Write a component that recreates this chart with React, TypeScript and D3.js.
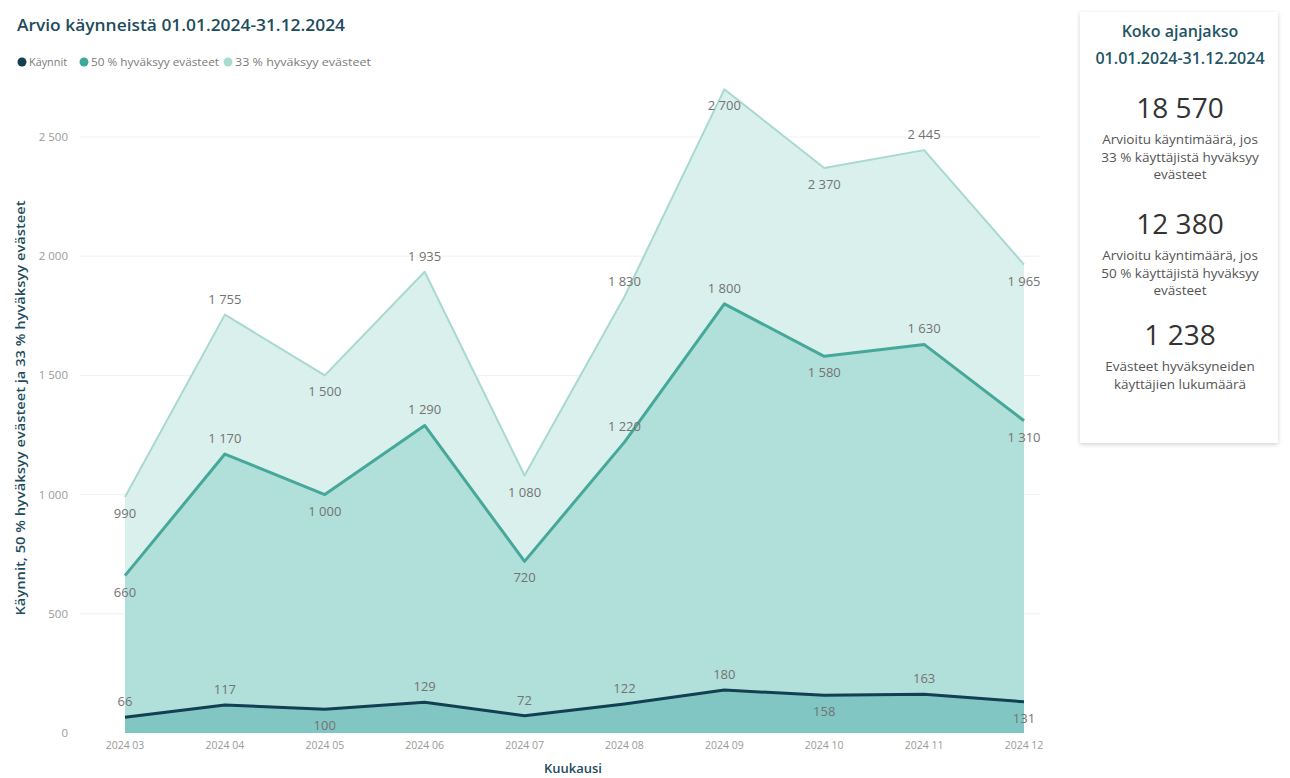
import React from "react";
import * as d3 from "d3";

const months = ["2024 03", "2024 04", "2024 05", "2024 06", "2024 07", "2024 08", "2024 09", "2024 10", "2024 11", "2024 12"];
const visits = [66, 117, 100, 129, 72, 122, 180, 158, 163, 131];
const accept50 = [660, 1170, 1000, 1290, 720, 1220, 1800, 1580, 1630, 1310];
const accept33 = [990, 1755, 1500, 1935, 1080, 1830, 2700, 2370, 2445, 1965];
const yTicks = [0, 500, 1000, 1500, 2000, 2500];
const seriesNames = ["Käynnit", "50 % hyväksyy evästeet", "33 % hyväksyy evästeet"];

// label side: 1 = above, -1 = below
const pos33 = [-1, 1, -1, 1, -1, 1, -1, -1, 1, -1];
const pos50 = [-1, 1, -1, 1, -1, 1, 1, -1, 1, -1];
const posVisits = [1, 1, -1, 1, 1, 1, 1, -1, 1, -1];

const cardTitle = ["Koko ajanjakso", "01.01.2024-31.12.2024"];
const kpis = [
  { value: "18 570", lines: ["Arvioitu käyntimäärä, jos", "33 % käyttäjistä hyväksyy", "evästeet"] },
  { value: "12 380", lines: ["Arvioitu käyntimäärä, jos", "50 % käyttäjistä hyväksyy", "evästeet"] },
  { value: "1 238", lines: ["Evästeet hyväksyneiden", "käyttäjien lukumäärä"] },
];

const FONT = "'Segoe UI', 'Open Sans', 'Noto Sans', sans-serif";
const fmt = (v: number) => d3.format(",")(v).replace(/,/g, " ");

export default function App() {
  const W = 1290, H = 778;
  const x = d3.scalePoint<string>().domain(months).range([125, 1024]);
  const y = d3.scaleLinear().domain([0, 2500]).range([733, 137]);

  const area = (vals: number[]) =>
    d3.area<number>().x((_, i) => x(months[i])!).y0(y(0)).y1((d) => y(d))(vals) || "";
  const line = (vals: number[]) =>
    d3.line<number>().x((_, i) => x(months[i])!).y((d) => y(d))(vals) || "";

  const series = [
    { vals: accept33, fill: "#daf0ec", stroke: "#a8d9d1", sw: 2, pos: pos33 },
    { vals: accept50, fill: "#b1dfda", stroke: "#45a89b", sw: 3, pos: pos50 },
    { vals: visits, fill: "#82c6c3", stroke: "#123f52", sw: 3, pos: posVisits },
  ];
  const legendColors = ["#123f52", "#3fa89a", "#a8dcd3"];
  const legendX = [22, 84, 228];
  const legendLen = [38, 128, 136];

  const cardCx = 1180;
  const kpiY = [118, 234, 345];

  return (
    <svg width={W} height={H} style={{ position: "absolute", left: 0, top: 0, background: "#fff" }} fontFamily={FONT}>
      <defs>
        <filter id="shadow" x="-10%" y="-10%" width="120%" height="120%">
          <feDropShadow dx="0" dy="1.5" stdDeviation="2" floodColor="#000" floodOpacity="0.18" />
        </filter>
      </defs>
      <rect x={0} y={0} width={W} height={H} fill="#fff" />
      {/* title */}
      <text x={17} y={31} fontSize={17} fontWeight={600} fill="#1d4c5c" textLength={328} lengthAdjust="spacingAndGlyphs">
        Arvio käynneistä 01.01.2024-31.12.2024
      </text>
      {/* legend */}
      {seriesNames.map((n, i) => (
        <g key={n}>
          <circle cx={legendX[i]} cy={62} r={4.5} fill={legendColors[i]} />
          <text x={legendX[i] + 7} y={65.5} fontSize={10} fill="#7a7a7a" textLength={legendLen[i]} lengthAdjust="spacingAndGlyphs">{n}</text>
        </g>
      ))}
      {/* gridlines */}
      {yTicks.map((t) => (
        <g key={t}>
          {t > 0 && <line x1={80} x2={1040} y1={y(t)} y2={y(t)} stroke="#f1f1f1" strokeWidth={1} />}
          <text x={68} y={y(t) + 4} fontSize={11.5} fill="#9a9a9a" textAnchor="end">{fmt(t)}</text>
        </g>
      ))}
      {/* areas */}
      {series.map((s, i) => (
        <path key={"a" + i} d={area(s.vals)} fill={s.fill} />
      ))}
      {series.map((s, i) => (
        <path key={"l" + i} d={line(s.vals)} fill="none" stroke={s.stroke} strokeWidth={s.sw} strokeLinejoin="round" />
      ))}
      {/* data labels */}
      {series.map((s, i) =>
        s.vals.map((v, j) => (
          <text key={"t" + i + "-" + j} x={x(months[j])!} y={y(v) + (s.pos[j] > 0 ? -11 : 21)} fontSize={13} fill="#737373" textAnchor="middle">
            {fmt(v)}
          </text>
        ))
      )}
      {/* x axis labels */}
      {months.map((m) => (
        <text key={m} x={x(m)!} y={749} fontSize={10.5} fill="#9a9a9a" textAnchor="middle">{m}</text>
      ))}
      <text x={573} y={773} fontSize={13} fontWeight={600} fill="#1d4c5c" textAnchor="middle">Kuukausi</text>
      <text transform={`translate(25,408) rotate(-90)`} fontSize={13} fontWeight={600} fill="#1d4c5c" textAnchor="middle" textLength={415} lengthAdjust="spacingAndGlyphs">
        Käynnit, 50 % hyväksyy evästeet ja 33 % hyväksyy evästeet
      </text>
      {/* card */}
      <rect x={1080} y={12} width={198} height={431} fill="#fff" filter="url(#shadow)" />
      {cardTitle.map((t, i) => (
        <text key={t} x={cardCx} y={37 + i * 27} fontSize={16} fontWeight={600} fill="#1f5566" textAnchor="middle">{t}</text>
      ))}
      {kpis.map((k, i) => (
        <g key={k.value}>
          <text x={cardCx} y={kpiY[i]} fontSize={28} fill="#333" textAnchor="middle">{k.value}</text>
          {k.lines.map((l, j) => (
            <text key={l} x={cardCx} y={kpiY[i] + 26 + j * 17.5} fontSize={13.5} fill="#555" textAnchor="middle">{l}</text>
          ))}
        </g>
      ))}
    </svg>
  );
}
